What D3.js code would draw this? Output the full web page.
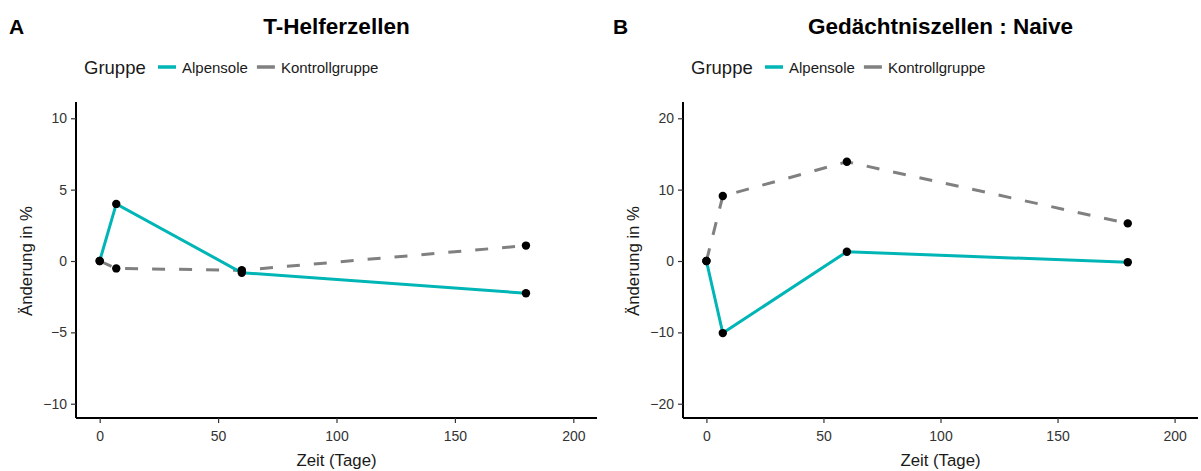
<!DOCTYPE html>
<html>
<head>
<meta charset="utf-8">
<script src="https://cdn.jsdelivr.net/npm/d3@7"></script>
<style>
  body { margin: 0; background: #fff; }
  svg { display: block; font-family: "Liberation Sans", Arial, sans-serif; }
</style>
</head>
<body>
<svg id="chart" width="1201" height="471"></svg>
<script>
// Days since start of therapy
const days = [0, 7, 60, 180];

// Panel A: T-Helferzellen (change in %)
const helferAlpensole = [0, 4.0, -0.82, -2.26];
const helferKontroll = [0, -0.52, -0.65, 1.08];

// Panel B: Gedächtniszellen : Naive (change in %)
const naiveAlpensole = [0, -10.1, 1.3, -0.18];
const naiveKontroll = [0, 9.1, 13.9, 5.27];

const xTicks = [0, 50, 100, 150, 200];
const groups = ["Alpensole", "Kontrollgruppe"];
const groupColor = { "Alpensole": "#00B5B5", "Kontrollgruppe": "#808080" };
const groupDash = { "Alpensole": null, "Kontrollgruppe": "13,14" };

const panels = [
  { tag: "A", title: "T-Helferzellen", left: 76, right: 597,
    yDomain: [-11, 11], yTicks: [-10, -5, 0, 5, 10],
    series: { "Alpensole": helferAlpensole, "Kontrollgruppe": helferKontroll } },
  { tag: "B", title: "Gedächtniszellen : Naive", left: 683, right: 1198,
    yDomain: [-22, 22], yTicks: [-20, -10, 0, 10, 20],
    series: { "Alpensole": naiveAlpensole, "Kontrollgruppe": naiveKontroll } }
];

const svg = d3.select("#chart");
const plotTop = 104, plotBottom = 418;

panels.forEach((p, i) => {
  const g = svg.append("g");
  const x = d3.scaleLinear().domain([-10, 210]).range([p.left, p.right]);
  const y = d3.scaleLinear().domain(p.yDomain).range([plotBottom, plotTop]);
  const panelX = i === 0 ? 0 : 604;

  // Tag and title
  g.append("text").attr("x", panelX + 9).attr("y", 34)
    .attr("font-size", 21).attr("font-weight", "bold").attr("fill", "#000").text(p.tag);
  g.append("text").attr("x", (p.left + p.right) / 2).attr("y", 34)
    .attr("text-anchor", "middle").attr("font-size", 22.5).attr("font-weight", "bold")
    .attr("fill", "#000").text(p.title);

  // Legend
  const lg = g.append("g").attr("transform", `translate(${p.left + 8},67)`);
  lg.append("text").attr("x", 0).attr("y", 6.5).attr("font-size", 18.5).attr("fill", "#1a1a1a").text("Gruppe");
  let lx = 74;
  groups.forEach(name => {
    lg.append("line").attr("x1", lx).attr("x2", lx + 18).attr("y1", 0).attr("y2", 0)
      .attr("stroke", groupColor[name]).attr("stroke-width", 3.5);
    const t = lg.append("text").attr("x", lx + 24).attr("y", 5.5).attr("font-size", 15)
      .attr("fill", "#1a1a1a").text(name);
    lx += 24 + t.node().getComputedTextLength() + 9;
  });

  // Axes
  const xAxis = d3.axisBottom(x).tickValues(xTicks).tickSize(5).tickPadding(8).tickFormat(d3.format("d"));
  const yAxis = d3.axisLeft(y).tickValues(p.yTicks).tickSize(5).tickPadding(4).tickFormat(d3.format("d"));
  const gx = g.append("g").attr("transform", `translate(0,${plotBottom})`).call(xAxis);
  const gy = g.append("g").attr("transform", `translate(${p.left},0)`).call(yAxis);
  [gx, gy].forEach(a => {
    a.select(".domain").attr("stroke", "#000").attr("stroke-width", 2);
    a.selectAll(".tick line").attr("stroke", "#333").attr("stroke-width", 1.2);
    a.selectAll(".tick text").attr("font-size", 14).attr("fill", "#333")
      .attr("font-family", "Liberation Sans, Arial, sans-serif");
  });
  gx.select(".domain").attr("d", `M${p.left},0H${p.right}`);
  gy.select(".domain").attr("d", `M0,${plotTop - 2}V${plotBottom}`);

  // Axis titles
  g.append("text").attr("x", (p.left + p.right) / 2).attr("y", 466)
    .attr("text-anchor", "middle").attr("font-size", 16.8).attr("fill", "#1a1a1a").text("Zeit (Tage)");
  g.append("text").attr("transform", `translate(${p.left - 44},${y(0)}) rotate(-90)`)
    .attr("text-anchor", "middle").attr("font-size", 16.8).attr("fill", "#1a1a1a").text("Änderung in %");

  // Lines
  const line = d3.line().x((d, k) => x(days[k])).y(d => y(d));
  groups.slice().reverse().forEach(name => {
    g.append("path").datum(p.series[name]).attr("d", line)
      .attr("fill", "none").attr("stroke", groupColor[name]).attr("stroke-width", 3)
      .attr("stroke-dasharray", groupDash[name]);
  });

  // Points
  groups.forEach(name => {
    g.selectAll(null).data(p.series[name]).enter().append("circle")
      .attr("cx", (d, k) => x(days[k])).attr("cy", d => y(d)).attr("r", 4.2).attr("fill", "#000");
  });
});
</script>
</body>
</html>
